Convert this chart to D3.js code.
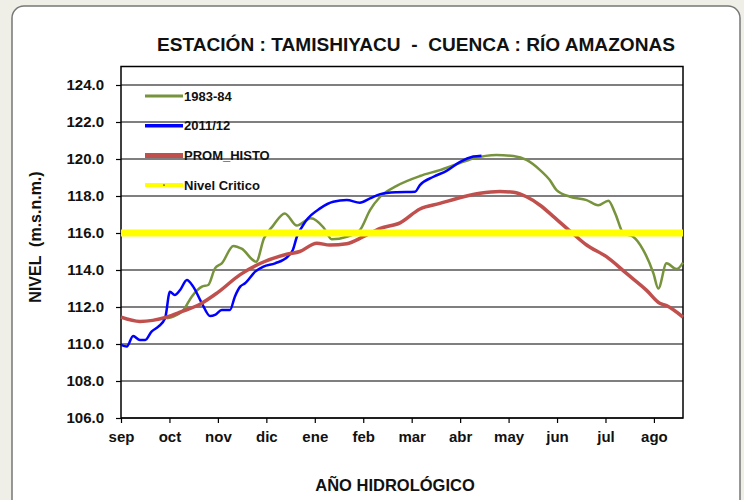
<!DOCTYPE html>
<html>
<head>
<meta charset="utf-8">
<script src="https://cdn.jsdelivr.net/npm/d3@7"></script>
<style>
  html, body { margin: 0; padding: 0; background: #efefe7; }
  svg { display: block; font-family: "Liberation Sans", Arial, sans-serif; }
</style>
</head>
<body>
<svg id="chart" width="744" height="500"></svg>
<script>
const width = 744;
const height = 500;

// hydrological year, sep -> ago
const months = ["sep", "oct", "nov", "dic", "ene", "feb", "mar", "abr", "may", "jun", "jul", "ago"];
const yTicks = [106, 108, 110, 112, 114, 116, 118, 120, 122, 124];
const nivelCritico = 116.0;

// [month position, level m.s.n.m.]
const serie1983 = [
  [0.94, 111.39], [1.08, 111.48], [1.29, 111.84], [1.46, 112.56], [1.67, 113.1],
  [1.80, 113.19], [1.94, 114.09], [2.08, 114.36], [2.32, 115.3], [2.49, 115.15],
  [2.79, 114.45], [2.95, 115.7], [3.14, 116.4], [3.38, 117.06], [3.63, 116.4],
  [3.83, 116.7], [3.92, 116.8], [4.18, 116.3], [4.35, 115.66], [4.66, 115.8],
  [4.93, 116.16], [5.14, 117.24], [5.35, 117.96], [5.69, 118.55], [6.17, 119.08],
  [6.58, 119.4], [6.93, 119.72], [7.27, 120.03], [7.75, 120.22], [8.10, 120.16],
  [8.37, 119.95], [8.65, 119.4], [8.85, 118.86], [8.99, 118.32], [9.27, 117.96],
  [9.61, 117.78], [9.85, 117.5], [10.06, 117.75], [10.20, 117.06], [10.37, 115.98],
  [10.57, 115.8], [10.78, 115.08], [10.99, 113.82], [11.09, 113.0], [11.26, 114.36],
  [11.47, 114.05], [11.60, 114.4]
];

const serie2011 = [
  [0.00, 109.95], [0.12, 109.86], [0.25, 110.43], [0.39, 110.22], [0.50, 110.22],
  [0.63, 110.67], [0.77, 110.94], [0.91, 111.39], [1.01, 112.83], [1.11, 112.65],
  [1.22, 112.92], [1.36, 113.46], [1.49, 113.1], [1.67, 112.2], [1.84, 111.51],
  [1.94, 111.57], [2.08, 111.84], [2.25, 111.84], [2.35, 112.56], [2.46, 113.1],
  [2.56, 113.28], [2.77, 113.91], [2.94, 114.18], [3.18, 114.36], [3.45, 114.75],
  [3.55, 115.1], [3.63, 115.8], [3.73, 116.3], [3.83, 116.7], [4.11, 117.33],
  [4.38, 117.69], [4.66, 117.78], [4.93, 117.64], [5.14, 117.87], [5.35, 118.1],
  [5.69, 118.2], [6.07, 118.23], [6.17, 118.59], [6.45, 119.04], [6.72, 119.36],
  [7.00, 119.85], [7.27, 120.13], [7.44, 120.18]
];

const promHisto = [
  [0.00, 111.45], [0.39, 111.22], [0.94, 111.45], [1.25, 111.75], [1.63, 112.15],
  [1.98, 112.75], [2.46, 113.75], [2.87, 114.35], [3.42, 114.85], [3.69, 115.0],
  [4.04, 115.45], [4.31, 115.35], [4.66, 115.42], [5.00, 115.8], [5.35, 116.25],
  [5.76, 116.55], [6.17, 117.3], [6.58, 117.6], [7.07, 117.96], [7.41, 118.15],
  [7.82, 118.25], [8.10, 118.2], [8.37, 117.96], [8.65, 117.5], [8.92, 116.9],
  [9.27, 116.1], [9.61, 115.35], [10.02, 114.72], [10.44, 113.8], [10.85, 112.9],
  [11.12, 112.2], [11.26, 112.07], [11.60, 111.45]
];

const series = [
  { name: "1983-84", values: serie1983, color: "#77933c", w: 2.5 },
  { name: "2011/12", values: serie2011, color: "#0000ff", w: 2.5 },
  { name: "PROM_HISTO", values: promHisto, color: "#c0504d", w: 3.5 }
];

const svg = d3.select("svg#chart");

// outer rounded frame
svg.append("rect")
  .attr("x", 12).attr("y", 6)
  .attr("width", 728).attr("height", 510)
  .attr("rx", 12)
  .attr("fill", "#fff")
  .attr("stroke", "#777")
  .attr("stroke-width", 1.5);

const x = d3.scaleLinear().domain([0, 11.6]).range([121, 683]);
const y = d3.scaleLinear().domain([106, 125]).range([418, 66.5]);

// grid
svg.append("g")
  .selectAll("line")
  .data(yTicks)
  .join("line")
  .attr("x1", x(0)).attr("x2", x(11.6))
  .attr("y1", d => y(d)).attr("y2", d => y(d))
  .attr("stroke", "#000")
  .attr("stroke-width", 1.2);

// axes
const yAxis = svg.append("g")
  .attr("transform", `translate(${x(0)},0)`)
  .call(d3.axisLeft(y).tickValues(yTicks).tickSize(5).tickPadding(12).tickFormat(d3.format(".1f")));
yAxis.select(".domain").remove();

const xAxis = svg.append("g")
  .attr("transform", `translate(0,${y(106)})`)
  .call(d3.axisBottom(x).tickValues(d3.range(12)).tickSize(5).tickPadding(8).tickFormat(i => months[i]));
xAxis.select(".domain").remove();

svg.selectAll(".tick line").attr("stroke", "#000").attr("stroke-width", 1.2);
svg.selectAll(".tick text")
  .attr("fill", "#111")
  .style("font-size", "15px")
  .style("font-weight", "bold");

// plot border
svg.append("rect")
  .attr("x", x(0)).attr("y", y(125))
  .attr("width", x(11.6) - x(0)).attr("height", y(106) - y(125))
  .attr("fill", "none")
  .attr("stroke", "#000")
  .attr("stroke-width", 1.5);

const line = d3.line()
  .x(d => x(d[0]))
  .y(d => y(d[1]))
  .curve(d3.curveMonotoneX);

svg.append("g")
  .selectAll("path")
  .data(series)
  .join("path")
  .attr("d", d => line(d.values))
  .attr("fill", "none")
  .attr("stroke", d => d.color)
  .attr("stroke-width", d => d.w)
  .attr("stroke-linejoin", "round");

// nivel critico
svg.append("line")
  .attr("x1", x(0)).attr("x2", x(11.6))
  .attr("y1", y(nivelCritico)).attr("y2", y(nivelCritico))
  .attr("stroke", "#ffff00")
  .attr("stroke-width", 7);

// legend
const legendItems = [
  { name: "1983-84", color: "#77933c", w: 3 },
  { name: "2011/12", color: "#0000ff", w: 3.5 },
  { name: "PROM_HISTO", color: "#c0504d", w: 5 },
  { name: "Nivel Critico", color: "#ffff00", w: 4 }
];
const legend = svg.append("g");
legendItems.forEach((d, i) => {
  const ly = 96 + i * 29.7;
  legend.append("line")
    .attr("x1", 145).attr("x2", 183)
    .attr("y1", ly).attr("y2", ly)
    .attr("stroke", d.color)
    .attr("stroke-width", d.w);
  if (i === 3) {
    legend.append("circle").attr("cx", 164).attr("cy", ly).attr("r", 0.9).attr("fill", "#556");
  }
  legend.append("text")
    .attr("x", 184).attr("y", ly)
    .attr("dy", "0.35em")
    .attr("fill", "#111")
    .style("font-size", "13px")
    .style("font-weight", "bold")
    .text(d.name);
});

// titles
svg.append("text")
  .attr("x", 416).attr("y", 51)
  .attr("text-anchor", "middle")
  .attr("fill", "#111")
  .style("font-size", "19px")
  .style("font-weight", "bold")
  .style("white-space", "pre")
  .attr("textLength", 518)
  .attr("lengthAdjust", "spacingAndGlyphs")
  .text("ESTACIÓN : TAMISHIYACU  -  CUENCA : RÍO AMAZONAS");

svg.append("text")
  .attr("x", 395).attr("y", 491)
  .attr("text-anchor", "middle")
  .attr("fill", "#111")
  .style("font-size", "16.5px")
  .style("font-weight", "bold")
  .text("AÑO HIDROLÓGICO");

svg.append("text")
  .attr("transform", "translate(41,237) rotate(-90)")
  .attr("text-anchor", "middle")
  .attr("fill", "#111")
  .style("font-size", "16px")
  .style("font-weight", "bold")
  .style("white-space", "pre")
  .text("NIVEL  (m.s.n.m.)");
</script>
</body>
</html>
